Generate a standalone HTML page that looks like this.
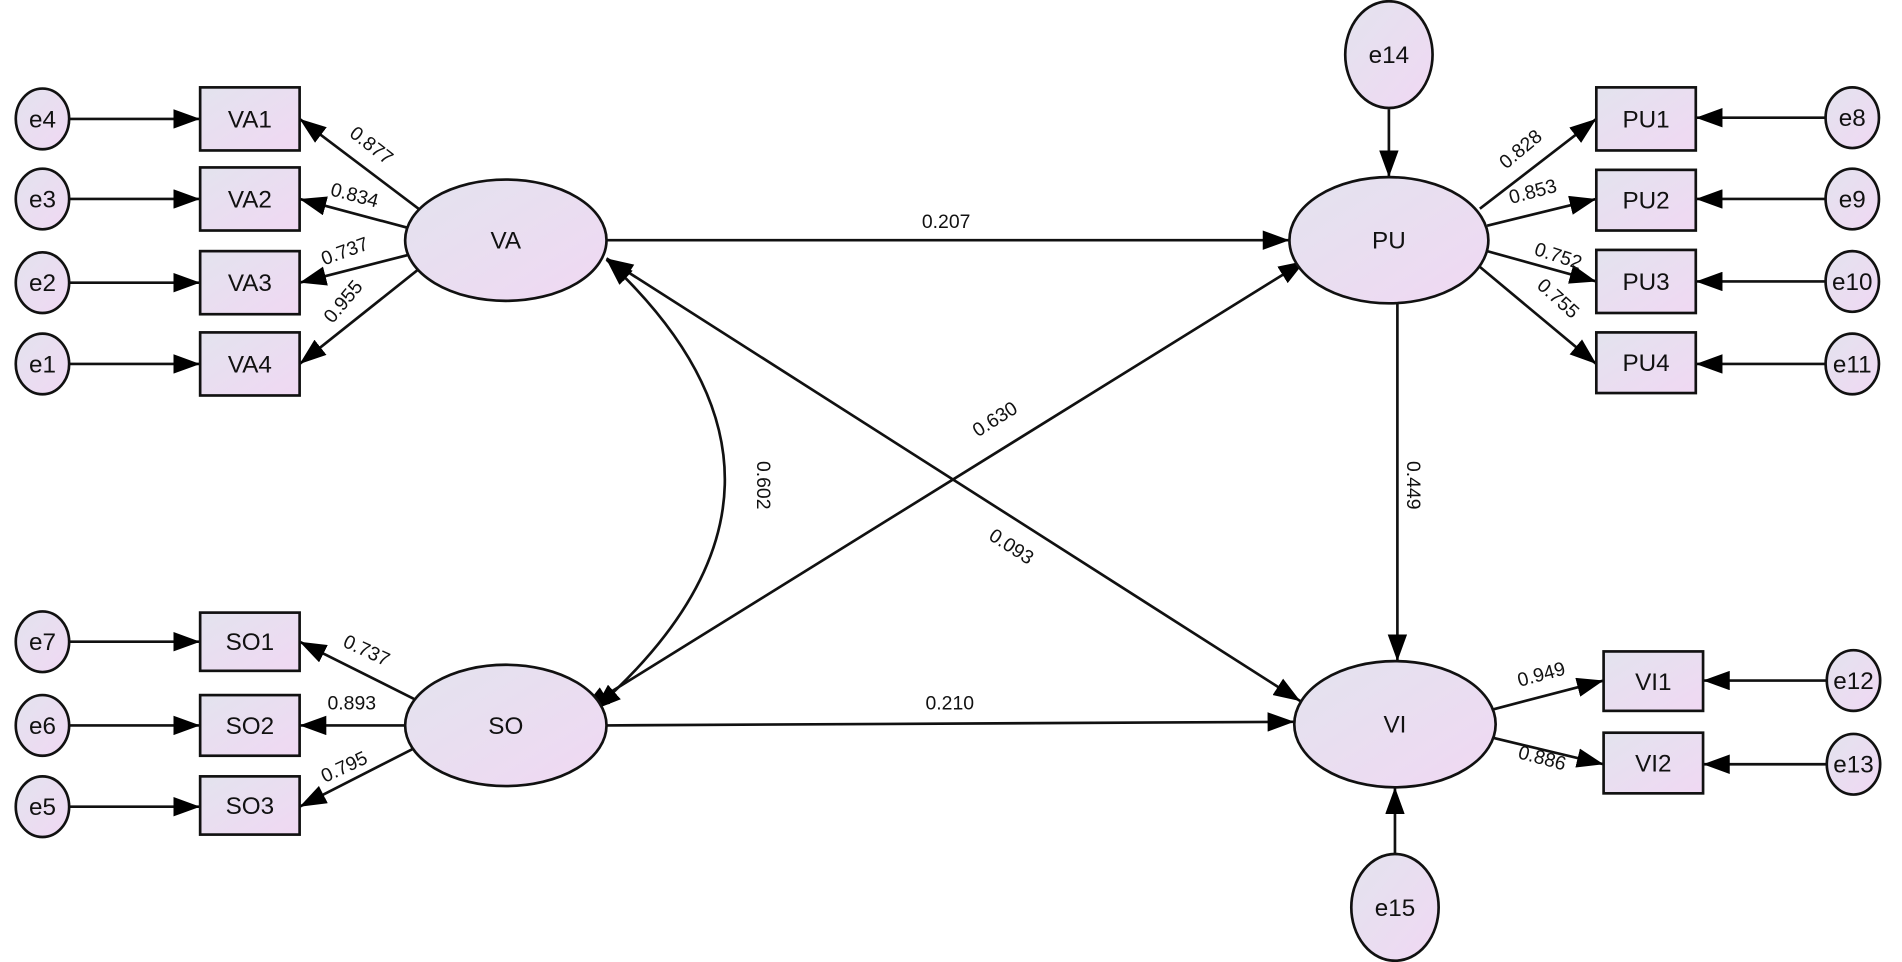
<!DOCTYPE html>
<html><head><meta charset="utf-8"><style>
html,body{margin:0;padding:0;background:#fff;}
svg{display:block;}
text{font-family:"Liberation Sans",Arial,sans-serif;fill:#111;}
</style></head><body>
<svg width="1902" height="962" viewBox="0 0 1568 793" xmlns="http://www.w3.org/2000/svg">
<defs>
<linearGradient id="g" x1="0" y1="0" x2="1" y2="1">
<stop offset="0" stop-color="#e3e3ee"/><stop offset="1" stop-color="#f0d8f3"/>
</linearGradient>
<marker id="a" markerUnits="userSpaceOnUse" markerWidth="24" markerHeight="16" refX="22" refY="8" orient="auto">
<path d="M0,0 L22,8 L0,16 Z" fill="#000"/>
</marker>
<marker id="s" markerUnits="userSpaceOnUse" markerWidth="24" markerHeight="16" refX="0" refY="8" orient="auto">
<path d="M22,0 L0,8 L22,16 Z" fill="#000"/>
</marker>
</defs>
<g stroke="#111" stroke-width="2.2" fill="none">
<!-- error to VA boxes -->
<line x1="57" y1="98" x2="165" y2="98" marker-end="url(#a)"/>
<line x1="57" y1="164" x2="165" y2="164" marker-end="url(#a)"/>
<line x1="57" y1="233" x2="165" y2="233" marker-end="url(#a)"/>
<line x1="57" y1="300" x2="165" y2="300" marker-end="url(#a)"/>
<line x1="57" y1="529" x2="165" y2="529" marker-end="url(#a)"/>
<line x1="57" y1="598" x2="165" y2="598" marker-end="url(#a)"/>
<line x1="57" y1="665" x2="165" y2="665" marker-end="url(#a)"/>
<!-- right errors -->
<line x1="1505" y1="97" x2="1398" y2="97" marker-end="url(#a)"/>
<line x1="1505" y1="164" x2="1398" y2="164" marker-end="url(#a)"/>
<line x1="1505" y1="232" x2="1398" y2="232" marker-end="url(#a)"/>
<line x1="1505" y1="300" x2="1398" y2="300" marker-end="url(#a)"/>
<line x1="1506" y1="561" x2="1404" y2="561" marker-end="url(#a)"/>
<line x1="1506" y1="630" x2="1404" y2="630" marker-end="url(#a)"/>
<!-- VA loadings -->
<line x1="345" y1="172" x2="247" y2="98" marker-end="url(#a)"/>
<line x1="337" y1="188" x2="247" y2="164" marker-end="url(#a)"/>
<line x1="337" y1="210" x2="247" y2="233" marker-end="url(#a)"/>
<line x1="345" y1="222" x2="247" y2="300" marker-end="url(#a)"/>
<!-- SO loadings -->
<line x1="345" y1="578" x2="247" y2="529" marker-end="url(#a)"/>
<line x1="335" y1="598" x2="247" y2="598" marker-end="url(#a)"/>
<line x1="345" y1="615" x2="247" y2="665" marker-end="url(#a)"/>
<!-- PU loadings -->
<line x1="1220" y1="172" x2="1316" y2="98" marker-end="url(#a)"/>
<line x1="1226" y1="186" x2="1316" y2="164" marker-end="url(#a)"/>
<line x1="1226" y1="207" x2="1316" y2="232" marker-end="url(#a)"/>
<line x1="1220" y1="220" x2="1316" y2="300" marker-end="url(#a)"/>
<!-- VI loadings -->
<line x1="1230" y1="585" x2="1322" y2="561" marker-end="url(#a)"/>
<line x1="1230" y1="608" x2="1322" y2="630" marker-end="url(#a)"/>
<!-- structural -->
<line x1="500" y1="198" x2="1063" y2="198" marker-end="url(#a)"/>
<line x1="500" y1="598" x2="1067" y2="595" marker-end="url(#a)"/>
<line x1="1152" y1="250" x2="1152" y2="545" marker-end="url(#a)"/>
<line x1="480" y1="585" x2="1076" y2="215" marker-start="url(#s)" marker-end="url(#a)"/>
<line x1="500" y1="213" x2="1072" y2="578" marker-start="url(#s)" marker-end="url(#a)"/>
<path d="M500,214 Q700,400 490,585" marker-start="url(#s)" marker-end="url(#a)"/>
<line x1="1145" y1="90" x2="1145" y2="146" marker-end="url(#a)"/>
<line x1="1150" y1="704" x2="1150" y2="649" marker-end="url(#a)"/>
</g>
<g stroke="#111" stroke-width="2.2" fill="url(#g)">
<ellipse cx="35" cy="98" rx="22" ry="25"/><ellipse cx="35" cy="164" rx="22" ry="25"/>
<ellipse cx="35" cy="233" rx="22" ry="25"/><ellipse cx="35" cy="300" rx="22" ry="25"/>
<ellipse cx="35" cy="529" rx="22" ry="25"/><ellipse cx="35" cy="598" rx="22" ry="25"/>
<ellipse cx="35" cy="665" rx="22" ry="25"/>
<ellipse cx="1527" cy="97" rx="22" ry="25"/><ellipse cx="1527" cy="164" rx="22" ry="25"/>
<ellipse cx="1527" cy="232" rx="22" ry="25"/><ellipse cx="1527" cy="300" rx="22" ry="25"/>
<ellipse cx="1528" cy="561" rx="22" ry="25"/><ellipse cx="1528" cy="630" rx="22" ry="25"/>
<ellipse cx="1145" cy="45" rx="36" ry="44"/><ellipse cx="1150" cy="748" rx="36" ry="44"/>
<rect x="165" y="72" width="82" height="52"/><rect x="165" y="138" width="82" height="52"/>
<rect x="165" y="207" width="82" height="52"/><rect x="165" y="274" width="82" height="52"/>
<rect x="165" y="505" width="82" height="48"/><rect x="165" y="573" width="82" height="50"/>
<rect x="165" y="640" width="82" height="48"/>
<rect x="1316" y="72" width="82" height="52"/><rect x="1316" y="140" width="82" height="50"/>
<rect x="1316" y="206" width="82" height="52"/><rect x="1316" y="274" width="82" height="50"/>
<rect x="1322" y="537" width="82" height="49"/><rect x="1322" y="604" width="82" height="50"/>
<ellipse cx="417" cy="198" rx="83" ry="50"/><ellipse cx="417" cy="598" rx="83" ry="50"/>
<ellipse cx="1145" cy="198" rx="82" ry="52"/><ellipse cx="1150" cy="597" rx="83" ry="52"/>
</g>
<g font-size="20" text-anchor="middle">
<text x="35" y="105">e4</text><text x="35" y="171">e3</text><text x="35" y="240">e2</text><text x="35" y="307">e1</text>
<text x="35" y="536">e7</text><text x="35" y="605">e6</text><text x="35" y="672">e5</text>
<text x="1527" y="104">e8</text><text x="1527" y="171">e9</text><text x="1527" y="239">e10</text><text x="1527" y="307">e11</text>
<text x="1528" y="568">e12</text><text x="1528" y="637">e13</text>
<text x="1145" y="52">e14</text><text x="1150" y="755">e15</text>
<text x="206" y="105">VA1</text><text x="206" y="171">VA2</text><text x="206" y="240">VA3</text><text x="206" y="307">VA4</text>
<text x="206" y="536">SO1</text><text x="206" y="605">SO2</text><text x="206" y="671">SO3</text>
<text x="1357" y="105">PU1</text><text x="1357" y="172">PU2</text><text x="1357" y="239">PU3</text><text x="1357" y="306">PU4</text>
<text x="1363" y="569">VI1</text><text x="1363" y="636">VI2</text>
<text x="417" y="205">VA</text><text x="417" y="605">SO</text><text x="1145" y="205">PU</text><text x="1150" y="604">VI</text>
</g>
<g font-size="16" text-anchor="middle">
<text x="780" y="188">0.207</text>
<text x="783" y="585">0.210</text>
<text transform="translate(1160,400) rotate(90)">0.449</text>
<text transform="translate(823,350) rotate(-32)">0.630</text>
<text transform="translate(831,455) rotate(33)">0.093</text>
<text transform="translate(624,400) rotate(90)">0.602</text>
<text transform="translate(303,124) rotate(38)">0.877</text>
<text transform="translate(291,166) rotate(15)">0.834</text>
<text transform="translate(286,212) rotate(-20)">0.737</text>
<text transform="translate(287,252) rotate(-50)">0.955</text>
<text transform="translate(300,541) rotate(25)">0.737</text>
<text transform="translate(290,585)">0.893</text>
<text transform="translate(286,637) rotate(-25)">0.795</text>
<text transform="translate(1257,127) rotate(-40)">0.828</text>
<text transform="translate(1265,163) rotate(-15)">0.853</text>
<text transform="translate(1283,216) rotate(18)">0.752</text>
<text transform="translate(1281,250) rotate(42)">0.755</text>
<text transform="translate(1272,561) rotate(-15)">0.949</text>
<text transform="translate(1270,630) rotate(15)">0.886</text>
</g>
</svg>
</body></html>
